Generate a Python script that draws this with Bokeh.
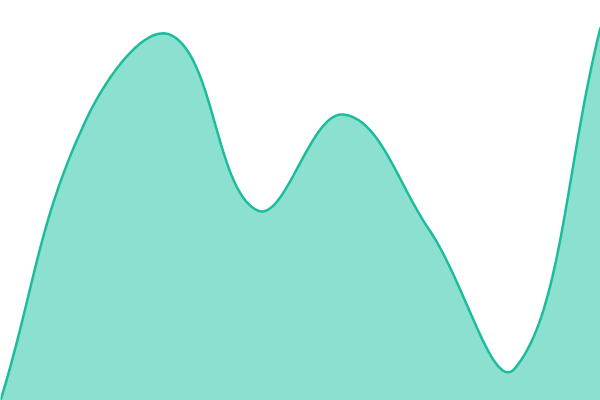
import math
import numpy as np
from bokeh.plotting import figure
from bokeh.models import Range1d, GlobalInlineStyleSheet
from bokeh.embed import file_html
from bokeh.resources import INLINE

# data: 8 evenly spaced samples
idx = [0, 1, 2, 3, 4, 5, 6, 7]
vals = [0, 281, 365, 190, 286, 171, 32, 373]

LINE = "#1abc9c"
FILL = "#8be0cf"
TENSION = 0.4


def spline_path(x, y, t=TENSION):
    n = len(x)
    cps = []
    for i in range(n):
        pv = (x[max(i - 1, 0)], y[max(i - 1, 0)])
        cu = (x[i], y[i])
        nx = (x[min(i + 1, n - 1)], y[min(i + 1, n - 1)])
        d01 = math.hypot(cu[0] - pv[0], cu[1] - pv[1])
        d12 = math.hypot(nx[0] - cu[0], nx[1] - cu[1])
        s01 = d01 / (d01 + d12) if d01 + d12 else 0
        s12 = d12 / (d01 + d12) if d01 + d12 else 0
        fa, fb = t * s01, t * s12
        cps.append(((cu[0] - fa * (nx[0] - pv[0]), cu[1] - fa * (nx[1] - pv[1])),
                    (cu[0] + fb * (nx[0] - pv[0]), cu[1] + fb * (nx[1] - pv[1]))))
    u = np.linspace(0, 1, 40)
    px, py = [], []
    for i in range(n - 1):
        P0 = (x[i], y[i]); P1 = cps[i][1]; P2 = cps[i + 1][0]; P3 = (x[i + 1], y[i + 1])
        b = [(1 - u) ** 3, 3 * (1 - u) ** 2 * u, 3 * (1 - u) * u ** 2, u ** 3]
        bx = b[0] * P0[0] + b[1] * P1[0] + b[2] * P2[0] + b[3] * P3[0]
        by = b[0] * P0[1] + b[1] * P1[1] + b[2] * P2[1] + b[3] * P3[1]
        if i > 0:
            bx, by = bx[1:], by[1:]
        px.extend(bx); py.extend(by)
    return np.array(px), np.array(py)


W, H = 600, 400
step = W / (len(idx) - 1)
xpos = [i * step for i in idx]
cx, cy = spline_path(xpos, vals)

p = figure(width=W, height=H, output_backend="svg", toolbar_location=None,
           x_range=Range1d(0, W), y_range=Range1d(0, H), min_border=0)
p.axis.visible = False
p.grid.visible = False
p.outline_line_color = None
p.background_fill_color = "white"
p.border_fill_color = "white"

p.varea(x=cx, y1=np.zeros_like(cy), y2=cy, fill_color=FILL, fill_alpha=1.0)
p.line(cx, cy, line_color=LINE, line_width=2.5)

p.stylesheets.append(GlobalInlineStyleSheet(css="html, body { margin: 0 !important; padding: 0; overflow: hidden; }"))

open("out.html", "w").write(file_html(p, INLINE))
